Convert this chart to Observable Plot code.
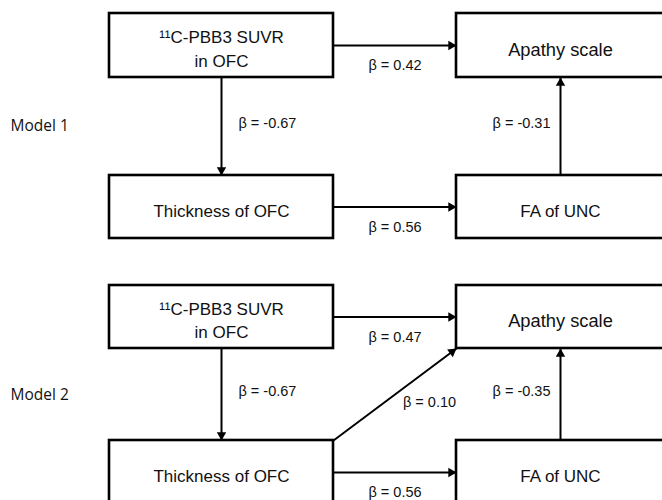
<!DOCTYPE html>
<html><head><meta charset="utf-8">
<script src="https://cdn.jsdelivr.net/npm/d3@7"></script>
<script src="https://cdn.jsdelivr.net/npm/@observablehq/plot@0.6"></script>
<style>body{margin:0;background:#fff;} #chart svg{display:block;}</style>
</head><body><div id="chart"></div>
<script>
// ---- data ----
const models = ["Model 1", "Model 2"];
const nodeIds = ["pbb3", "thick", "apathy", "fa"];
const nodeLabels = ["¹¹C-PBB3 SUVR\nin OFC", "Thickness of OFC", "Apathy scale", "FA of UNC"];
const edgeModel = ["Model 1", "Model 1", "Model 1", "Model 1", "Model 2", "Model 2", "Model 2", "Model 2", "Model 2"];
const edgeFrom  = ["pbb3", "pbb3", "thick", "fa", "pbb3", "pbb3", "thick", "thick", "fa"];
const edgeTo    = ["apathy", "thick", "fa", "apathy", "apathy", "thick", "apathy", "fa", "apathy"];
const edgeBeta  = ["0.42", "-0.67", "0.56", "-0.31", "0.47", "-0.67", "0.10", "0.56", "-0.35"];

// ---- layout (diagram geometry and styles, kept apart from the data) ----
const nodeCol = {pbb3: 0, thick: 0, apathy: 1, fa: 1};
const nodeRow = {pbb3: 0, apathy: 0, thick: 1, fa: 1};
const nodeFont = {pbb3: 17, thick: 17, apathy: 18.3, fa: 17};
const colX = [[109, 333], [456, 664]];
const rowY = {"Model 1": [[13, 77], [175, 238]], "Model 2": [[285, 348], [440, 504]]};

function box(model, id) {
  const [x1, x2] = colX[nodeCol[id]];
  const [y1, y2] = rowY[model][nodeRow[id]];
  return {x1, x2, y1, y2, cx: (x1 + x2) / 2, cy: (y1 + y2) / 2};
}

const boxes = [];
models.forEach(m => nodeIds.forEach((id, i) => boxes.push({model: m, label: nodeLabels[i], fs: nodeFont[id], ...box(m, id)})));

const edges = edgeModel.map((m, i) => {
  const a = box(m, edgeFrom[i]), b = box(m, edgeTo[i]);
  let x1, y1, x2, y2, lx, ly, anchor;
  if (nodeRow[edgeFrom[i]] === nodeRow[edgeTo[i]]) {
    x1 = a.x2; x2 = b.x1; y1 = y2 = a.cy;
    lx = (x1 + x2) / 2; ly = y1 + 20; anchor = "middle";
  } else if (nodeCol[edgeFrom[i]] === nodeCol[edgeTo[i]]) {
    x1 = x2 = a.cx;
    if (a.cy < b.cy) { y1 = a.y2; y2 = b.y1; } else { y1 = a.y1; y2 = b.y2; }
    ly = (y1 + y2) / 2 - 3;
    if (nodeCol[edgeFrom[i]] === 0) { lx = x1 + 17; anchor = "start"; }
    else { lx = x1 - 10; anchor = "end"; }
  } else {
    x1 = a.x2; y1 = a.y1; x2 = b.x1; y2 = b.y2;
    lx = (x1 + x2) / 2 + 8; ly = (y1 + y2) / 2 + 8; anchor = "start";
  }
  const len = Math.hypot(x2 - x1, y2 - y1), ux = (x2 - x1) / len, uy = (y2 - y1) / len;
  const r = 3.5, back = 1.555 * r;
  return {x1, y1, x2, y2, hx: x2 - ux * back, hy: y2 - uy * back,
          rot: Math.atan2(ux, -uy) * 180 / Math.PI, lx, ly, anchor, text: `β = ${edgeBeta[i]}`};
});

const modelLabels = models.map(m => ({text: m, x: 10, y: (rowY[m][0][0] + rowY[m][1][1]) / 2}));

const font = "Liberation Sans, Arial, sans-serif";
const chart = Plot.plot({
  width: 662, height: 500, margin: 0,
  x: {type: "identity"}, y: {type: "identity"},
  marks: [
    Plot.link(edges, {x1: "x1", y1: "y1", x2: "x2", y2: "y2", stroke: "black", strokeWidth: 2}),
    Plot.dot(edges, {x: "hx", y: "hy", rotate: "rot", symbol: "triangle", r: 3.5, fill: "black", stroke: "none"}),
    Plot.rect(boxes, {x1: "x1", x2: "x2", y1: "y1", y2: "y2", fill: "white", stroke: "black", strokeWidth: 2.6}),
    Plot.text(boxes, {x: "cx", y: (d) => d.cy + 2, text: "label", fontSize: "fs", lineHeight: 1.38, fontFamily: font, fill: "#111"}),
    Plot.text(edges.filter(e => e.anchor === "middle"), {x: "lx", y: "ly", text: "text", textAnchor: "middle", fontSize: 14.5, fontFamily: font, fill: "#111"}),
    Plot.text(edges.filter(e => e.anchor === "start"), {x: "lx", y: "ly", text: "text", textAnchor: "start", fontSize: 14.5, fontFamily: font, fill: "#111"}),
    Plot.text(edges.filter(e => e.anchor === "end"), {x: "lx", y: "ly", text: "text", textAnchor: "end", fontSize: 14.5, fontFamily: font, fill: "#111"}),
    Plot.text(modelLabels, {x: "x", y: "y", text: "text", textAnchor: "start", fontSize: 15.5, fontFamily: "Open Sans, sans-serif", fill: "#111"})
  ]
});
document.getElementById("chart").append(chart);
</script>
</body></html>
